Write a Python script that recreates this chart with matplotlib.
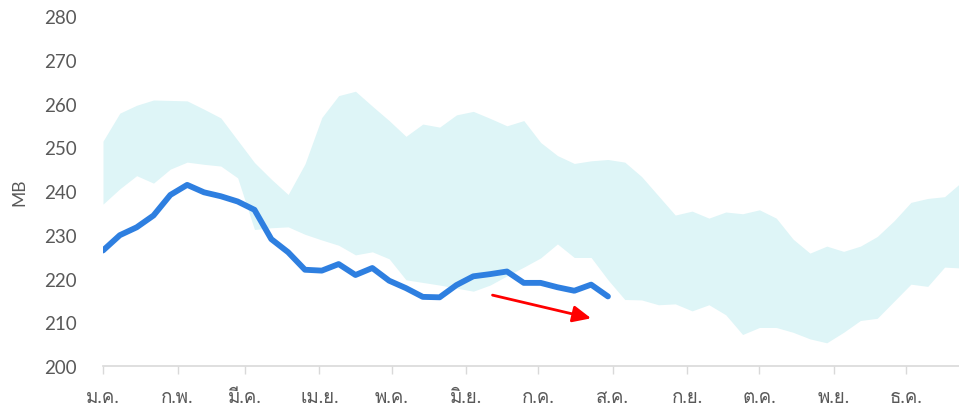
import numpy as np
import matplotlib
matplotlib.use('Agg')
import matplotlib.pyplot as plt
from matplotlib import font_manager
from matplotlib.ft2font import FT2Font

# Weekly values (week index 0..51), band = historical min/max range
band_upper = [251.4, 257.8, 259.6, 260.8, 260.7, 260.6, 258.7, 256.7, 251.6, 246.5,
              242.7, 239.2, 246.2, 256.8, 261.8, 262.8, 259.4, 256.1, 252.5, 255.3,
              254.6, 257.4, 258.2, 256.6, 254.9, 256.1, 251.1, 248.1, 246.3, 246.9,
              247.2, 246.6, 243.3, 238.9, 234.5, 235.4, 233.8, 235.2, 234.8, 235.7,
              233.8, 229.0, 225.8, 227.4, 226.2, 227.4, 229.6, 233.2, 237.4, 238.3,
              238.7, 242.0]
band_lower = [237.0, 240.5, 243.5, 241.8, 245.0, 246.6, 246.1, 245.7, 243.0, 231.2,
              231.6, 231.8, 230.1, 228.8, 227.6, 225.4, 226.1, 224.5, 219.7, 219.1,
              218.5, 217.8, 217.1, 218.5, 220.6, 222.6, 224.7, 227.9, 224.8, 224.8,
              219.7, 215.2, 215.1, 214.0, 214.2, 212.6, 214.0, 211.7, 207.2, 208.8,
              208.8, 207.7, 206.2, 205.3, 207.7, 210.4, 210.9, 214.8, 218.7, 218.2,
              222.6, 222.4]
current = [226.4, 229.9, 231.7, 234.4, 239.1, 241.4, 239.7, 238.8, 237.6, 235.7,
           229.0, 226.0, 222.0, 221.8, 223.3, 220.8, 222.4, 219.5, 217.8, 215.8,
           215.7, 218.5, 220.5, 221.0, 221.6, 219.0, 219.0, 218.0, 217.2, 218.6,
           215.9]

month_labels = ['ม.ค.', 'ก.พ.', 'มี.ค.', 'เม.ย.', 'พ.ค.', 'มิ.ย.',
                'ก.ค.', 'ส.ค.', 'ก.ย.', 'ต.ค.', 'พ.ย.', 'ธ.ค.']
month_start_day = [0, 31, 59, 90, 120, 151, 181, 212, 243, 273, 304, 334]
y_ticks = [200, 210, 220, 230, 240, 250, 260, 270, 280]

# arrow (day of year, MB)
arrow_tail = (162, 216.2)
arrow_head = (203, 210.9)

days_band = np.arange(len(band_upper)) * 7
days_cur = np.arange(len(current)) * 7

# find a font that has Thai glyphs
thai_font = None
for f in font_manager.fontManager.ttflist:
    try:
        if 0x0E01 in FT2Font(f.fname).get_charmap():
            thai_font = f.name
            break
    except Exception:
        pass

families = ['Lato', 'DejaVu Sans']
if thai_font:
    families.insert(1, thai_font)
plt.rcParams['font.family'] = families

text_color = '#595959'
axis_color = '#d9d9d9'

fig = plt.figure(figsize=(9.59, 4.14), dpi=100)
ax = fig.add_axes([103 / 959, 47 / 414, 856 / 959, 350 / 414])

ax.fill_between(days_band, band_lower, band_upper, color='#def5f7', lw=0)
ax.plot(days_cur, current, color='#2e7fe0', lw=4.2,
        solid_capstyle='round', solid_joinstyle='round')

ax.annotate('', xy=arrow_head, xytext=arrow_tail,
            arrowprops=dict(arrowstyle='-|>,head_length=0.55,head_width=0.25',
                            color='#ff0000', lw=2, mutation_scale=20,
                            shrinkA=0, shrinkB=0))

ax.set_xlim(0, 356)
ax.set_ylim(200, 280)
ax.set_xticks(month_start_day)
ax.set_xticklabels(month_labels)
ax.set_yticks(y_ticks)

for s in ['top', 'right', 'left']:
    ax.spines[s].set_visible(False)
ax.spines['bottom'].set_color(axis_color)
ax.spines['bottom'].set_linewidth(1.2)

ax.tick_params(axis='x', length=6, width=1, color=axis_color,
               labelsize=13.5, labelcolor=text_color, pad=10)
ax.tick_params(axis='y', length=0, labelsize=13.5, labelcolor=text_color, pad=19)
ax.set_ylabel('MB', fontsize=12.5, color=text_color, labelpad=12)

fig.savefig('out.png', dpi=100)
